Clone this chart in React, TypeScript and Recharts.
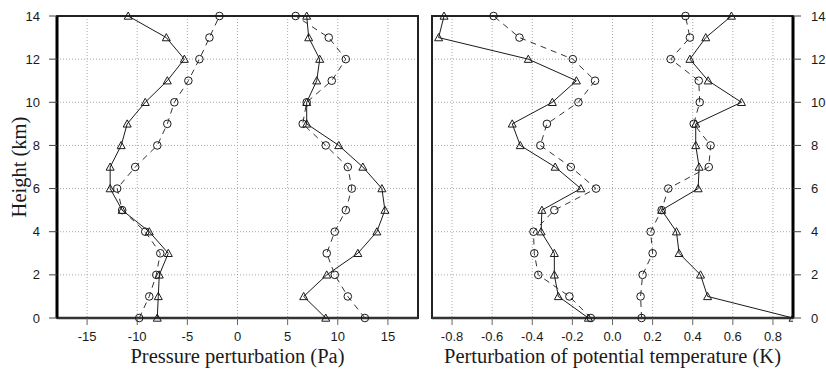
import {
  ScatterChart, Scatter, XAxis, YAxis, CartesianGrid, ReferenceArea, Label,
} from "recharts";

// heights (km) shared by every profile
const heights = [0, 1, 2, 3, 4, 5, 6, 7, 8, 9, 10, 11, 12, 13, 14];
const heightTicks = [0, 2, 4, 6, 8, 10, 12, 14];

// pressure perturbation (Pa)
const pressureTicks = [-15, -10, -5, 0, 5, 10, 15];
const pressureLowSolid = [-8.0, -7.9, -7.8, -6.9, -8.8, -11.5, -12.7, -12.7, -11.6, -11.0, -9.2, -7.0, -5.3, -7.1, -10.9];
const pressureLowDashed = [-9.8, -8.8, -8.1, -7.7, -9.2, -11.5, -12.0, -10.2, -8.0, -7.0, -6.3, -4.9, -3.8, -2.8, -1.8];
const pressureHighSolid = [8.8, 6.6, 8.9, 12.0, 13.9, 14.7, 14.4, 12.5, 10.1, 6.9, 6.9, 7.9, 8.2, 7.1, 6.9];
const pressureHighDashed = [12.7, 11.0, 9.7, 8.9, 9.7, 10.8, 11.4, 11.0, 8.8, 6.5, 6.9, 9.4, 10.8, 9.1, 5.8];

// perturbation of potential temperature (K)
const thetaTicks = [-0.8, -0.6, -0.4, -0.2, 0, 0.2, 0.4, 0.6, 0.8];
const thetaLowSolid = [-0.12, -0.27, -0.29, -0.29, -0.356, -0.352, -0.158, -0.286, -0.46, -0.5, -0.3, -0.18, -0.42, -0.867, -0.84];
const thetaLowDashed = [-0.108, -0.215, -0.37, -0.39, -0.394, -0.29, -0.082, -0.208, -0.36, -0.327, -0.17, -0.087, -0.198, -0.464, -0.593];
const thetaHighSolid = [0.9, 0.474, 0.439, 0.332, 0.319, 0.245, 0.427, 0.432, 0.415, 0.415, 0.643, 0.477, 0.386, 0.465, 0.593];
const thetaHighDashed = [0.145, 0.14, 0.15, 0.2, 0.19, 0.245, 0.278, 0.48, 0.489, 0.405, 0.435, 0.43, 0.29, 0.386, 0.364];

const SANS = "'Liberation Sans', Arial, sans-serif";
const SERIF = "'Liberation Serif', 'Times New Roman', serif";
const INK = "#1a1a1a";

const toPoints = (values: number[]) => heights.map((h, i) => ({ v: values[i], h }));

const HollowTriangle = (props: any) => {
  const { cx, cy } = props;
  if (cx == null || cy == null) return null;
  const s = 4;
  return (
    <path
      d={`M${cx},${cy - s} L${cx + s},${cy + s * 0.8} L${cx - s},${cy + s * 0.8} Z`}
      fill="none"
      stroke={INK}
      strokeWidth={1}
    />
  );
};

const HollowCircle = (props: any) => {
  const { cx, cy } = props;
  if (cx == null || cy == null) return null;
  return <circle cx={cx} cy={cy} r={3.8} fill="none" stroke={INK} strokeWidth={1} />;
};

const solidLine = { stroke: INK, strokeWidth: 1 };
const dashedLine = { stroke: "#333", strokeWidth: 1, strokeDasharray: "6 5" };
const tickStyle = { fontSize: 13, fill: INK, fontFamily: SANS };

const xTitle = (text: string) => (props: any) => {
  const vb = props.viewBox ?? { x: 0, y: 0, width: 0 };
  return (
    <text
      x={vb.x + vb.width / 2}
      y={vb.y + 45}
      textAnchor="middle"
      fontSize={20.5}
      fontFamily={SERIF}
      fill={INK}
    >
      {text}
    </text>
  );
};

const heightTitle = (props: any) => {
  const vb = props.viewBox ?? { y: 16, height: 302 };
  const x = 19;
  const y = vb.y + vb.height / 2;
  return (
    <text
      x={x}
      y={y}
      transform={`rotate(-90 ${x} ${y})`}
      textAnchor="middle"
      dominantBaseline="central"
      fontSize={20.5}
      fontFamily={SERIF}
      fill={INK}
    >
      Height (km)
    </text>
  );
};

interface PanelProps {
  left: number;
  width: number;
  margin: { top: number; right: number; bottom: number; left: number };
  domain: [number, number];
  ticks: number[];
  fmt?: (v: number) => string;
  title: string;
  side: "left" | "right";
  yWidth: number;
  yTitle?: boolean;
  series: { values: number[]; dashed: boolean }[];
}

function Panel({ left, width, margin, domain, ticks, fmt, title, side, yWidth, yTitle, series }: PanelProps) {
  return (
    <div style={{ position: "absolute", left, top: 0 }}>
      <ScatterChart width={width} height={370} margin={margin}>
        <CartesianGrid stroke="#a8a8a8" strokeDasharray="1 2" />
        <XAxis
          type="number"
          dataKey="v"
          domain={domain}
          ticks={ticks}
          tickFormatter={fmt}
          allowDataOverflow
          height={48}
          tickSize={7}
          tickMargin={7}
          tick={tickStyle}
          tickLine={{ stroke: "#666" }}
          axisLine={{ stroke: "#333", strokeWidth: 2.5 }}
        >
          <Label content={xTitle(title)} />
        </XAxis>
        <YAxis
          type="number"
          dataKey="h"
          orientation={side}
          domain={[0, 14]}
          ticks={heightTicks}
          width={yWidth}
          tickSize={8}
          tickMargin={side === "left" ? 9 : 10}
          tick={tickStyle}
          tickLine={{ stroke: "#444" }}
          axisLine={{ stroke: "#000", strokeWidth: 3 }}
        >
          {yTitle && <Label content={heightTitle} />}
        </YAxis>
        {series.map((s, i) => (
          <Scatter
            key={i}
            data={toPoints(s.values)}
            shape={s.dashed ? HollowCircle : HollowTriangle}
            line={s.dashed ? dashedLine : solidLine}
            isAnimationActive={false}
          />
        ))}
        {/* frame drawn last so it sits over marks touching the edges */}
        <ReferenceArea
          x1={domain[0]}
          x2={domain[1]}
          y1={0}
          y2={14}
          fill="none"
          stroke="#222"
          strokeWidth={2}
          ifOverflow="visible"
        />
      </ScatterChart>
    </div>
  );
}

export default function App() {
  return (
    <div style={{ position: "absolute", left: 0, top: 0, width: 826, height: 370, background: "#fff", overflow: "hidden" }}>
      <Panel
        left={0}
        width={420}
        margin={{ top: 16, right: 2, bottom: 4, left: 0 }}
        domain={[-18, 18]}
        ticks={pressureTicks}
        title="Pressure perturbation (Pa)"
        side="left"
        yWidth={57}
        yTitle
        series={[
          { values: pressureLowSolid, dashed: false },
          { values: pressureLowDashed, dashed: true },
          { values: pressureHighSolid, dashed: false },
          { values: pressureHighDashed, dashed: true },
        ]}
      />
      <Panel
        left={420}
        width={406}
        margin={{ top: 16, right: 0, bottom: 4, left: 12 }}
        domain={[-0.9, 0.9]}
        ticks={thetaTicks}
        fmt={(v) => v.toFixed(1)}
        title="Perturbation of potential temperature (K)"
        side="right"
        yWidth={33}
        series={[
          { values: thetaLowSolid, dashed: false },
          { values: thetaLowDashed, dashed: true },
          { values: thetaHighSolid, dashed: false },
          { values: thetaHighDashed, dashed: true },
        ]}
      />
    </div>
  );
}
